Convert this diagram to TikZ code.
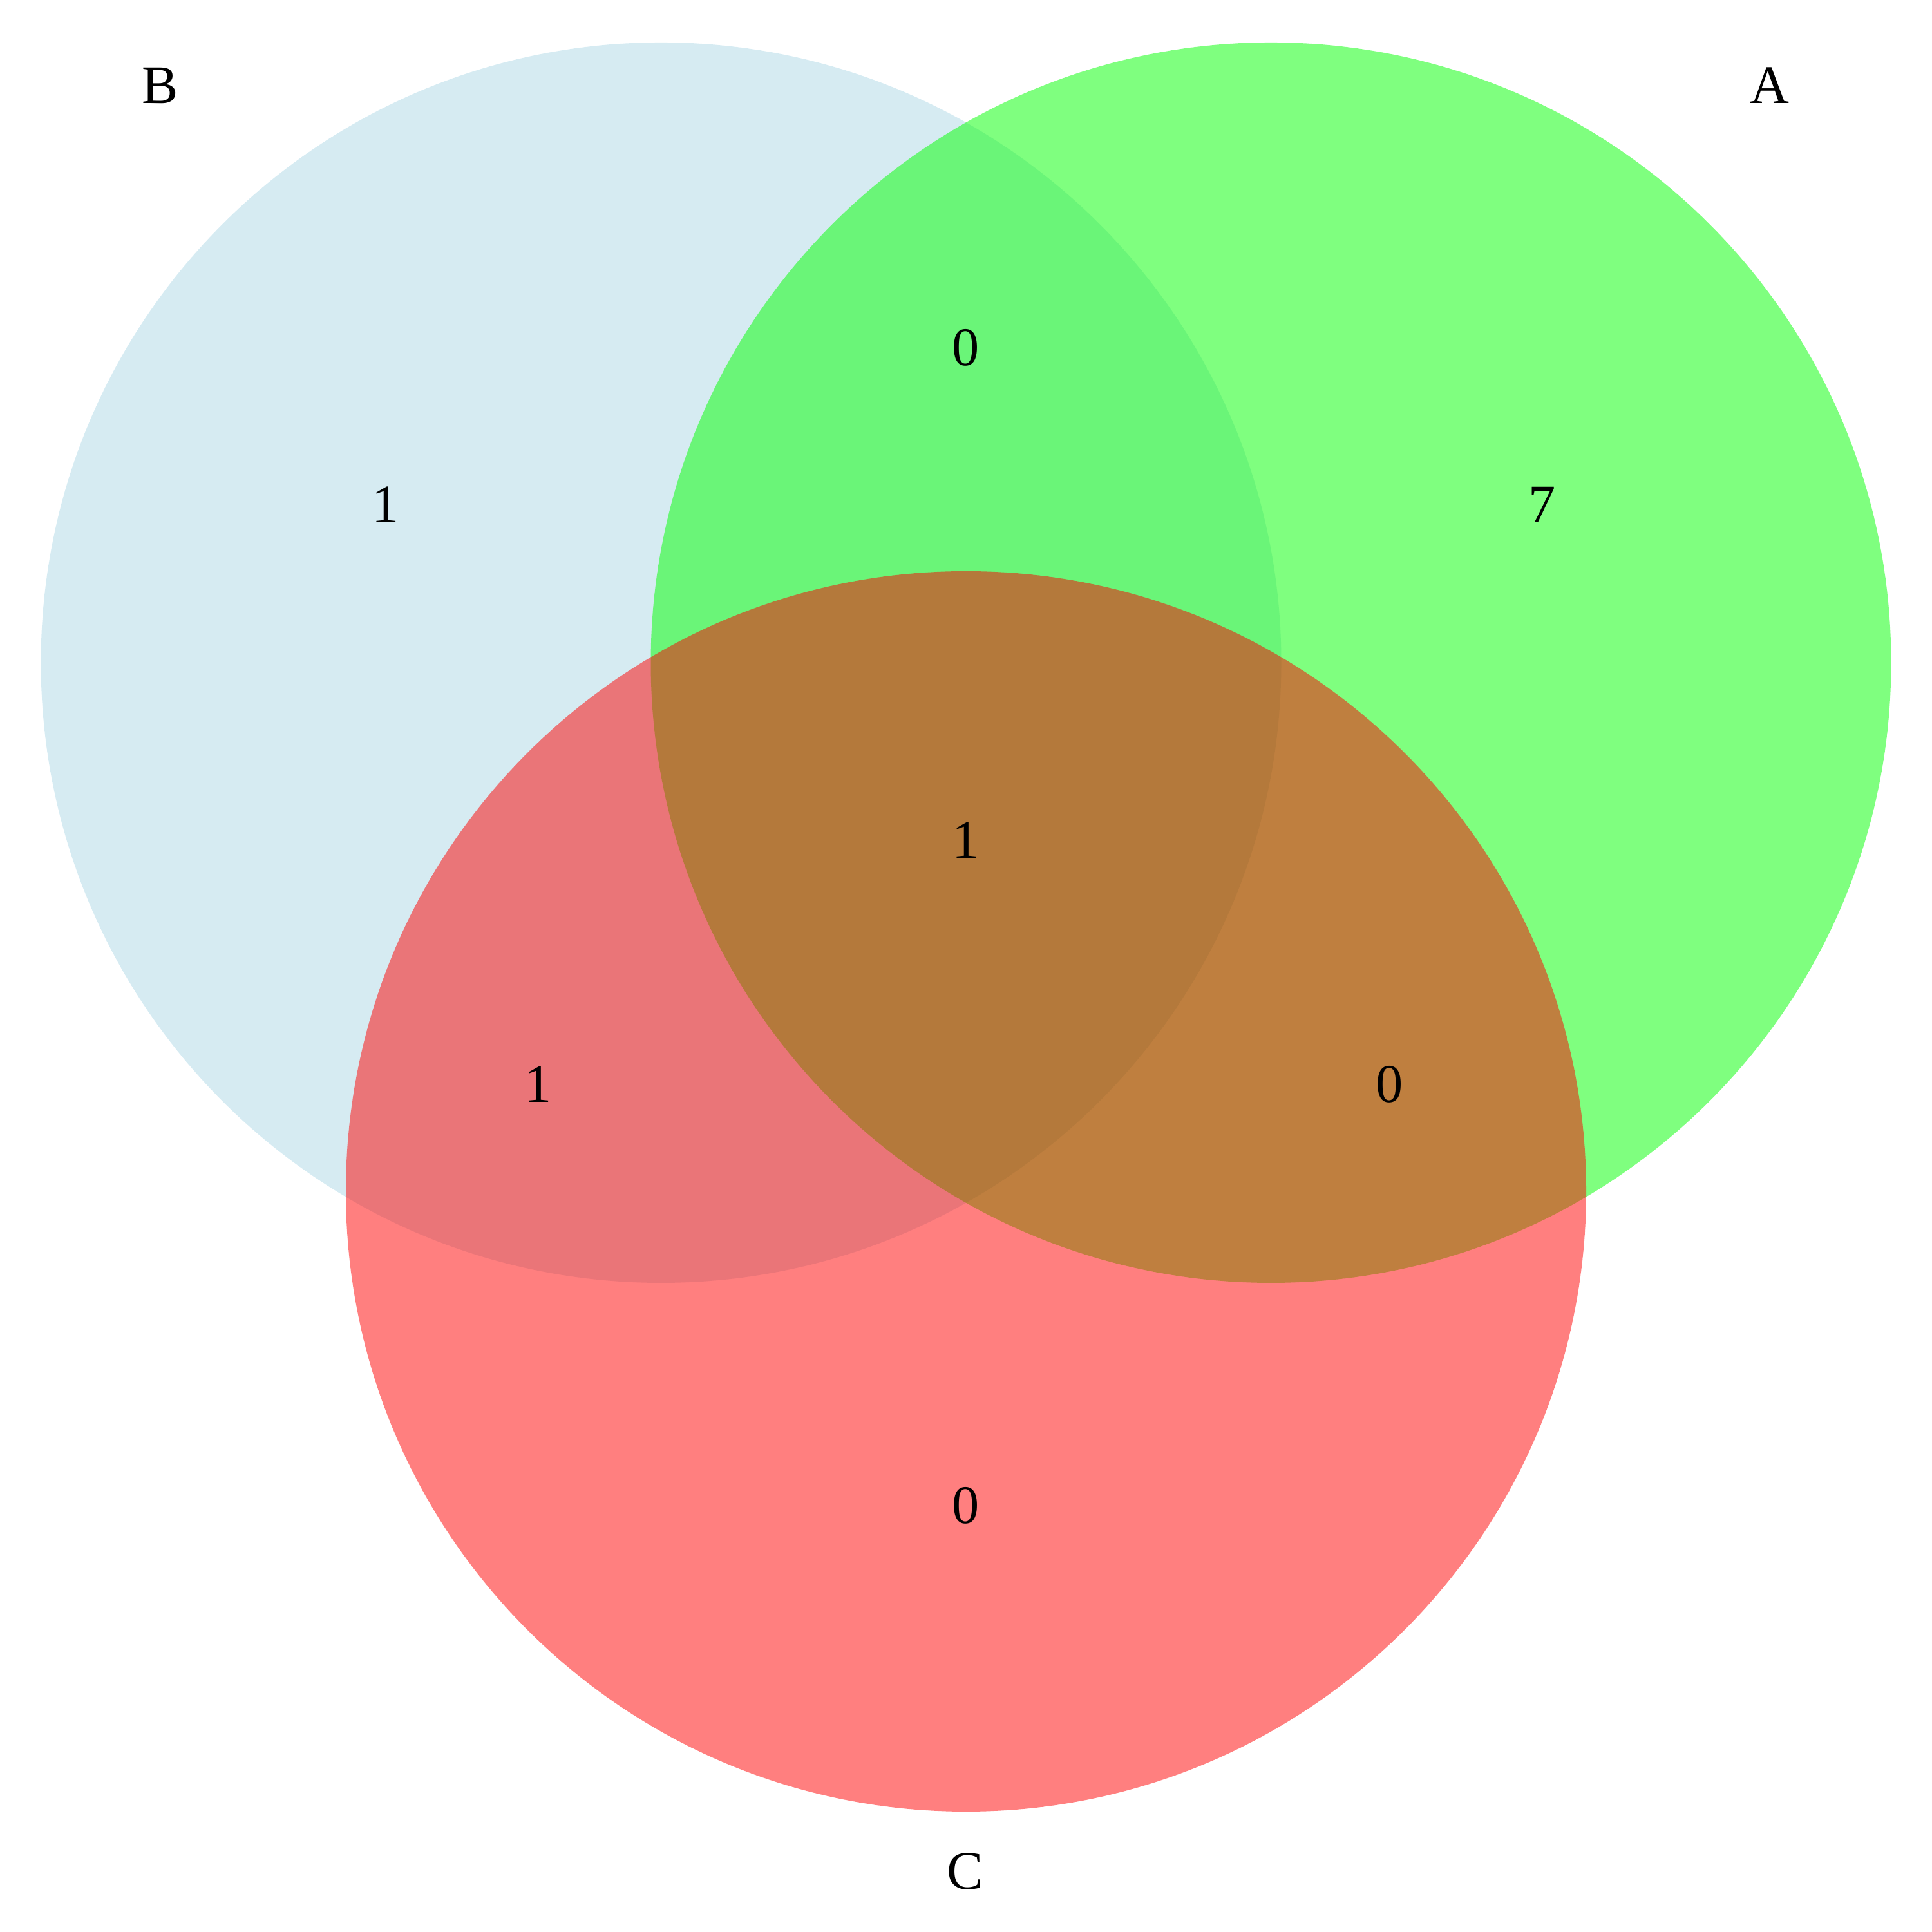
\documentclass[tikz,border=0pt]{standalone}
\usepackage{fontspec}
\setmainfont{Liberation Serif}
\definecolor{setblue}{HTML}{ADD8E6}
\definecolor{setgreen}{HTML}{00FF00}
\definecolor{setred}{HTML}{FF0000}

\begin{document}
\begin{tikzpicture}[set circle/.style={fill opacity=0.5},
    set label/.style={font=\fontsize{24}{28}\selectfont},
    region count/.style={font=\fontsize{24}{28}\selectfont}]

    \useasboundingbox (0,0) rectangle (30,30);

    \coordinate (cB) at (10.265, 19.71);
    \coordinate (cA) at (19.735, 19.71);
    \coordinate (cC) at (15, 11.5);

    % B first, then A, C on top
    \fill[setblue, set circle] (cB) circle (9.63);
    \fill[setgreen, set circle] (cA) circle (9.63);
    \fill[setred, set circle] (cC) circle (9.63);

    \node[set label] (labB) at (2.49, 28.67) {B};
    \node[set label] (labA) at (27.48, 28.67) {A};
    \node[set label] (labC) at (14.99, 0.94) {C};

    \node[region count] (nAB) at (15, 24.6) {0};
    \node[region count] (nB) at (5.99, 22.16) {1};
    \node[region count] (nA) at (23.95, 22.16) {7};
    \node[region count] (nABC) at (15, 16.95) {1};
    \node[region count] (nBC) at (8.36, 13.16) {1};
    \node[region count] (nAC) at (21.58, 13.16) {0};
    \node[region count] (nC) at (15, 6.62) {0};

\end{tikzpicture}
\end{document}
